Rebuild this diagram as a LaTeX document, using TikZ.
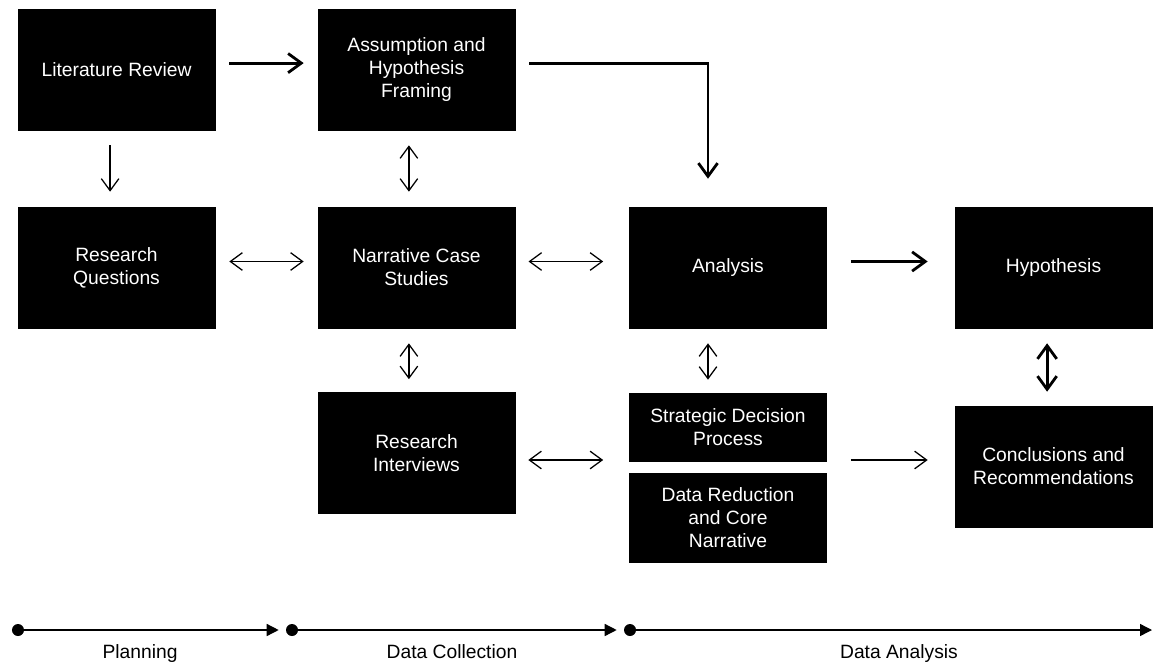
\documentclass[tikz,border=0pt]{standalone}
\usepackage{fontspec}
\setmainfont{Liberation Sans}
\usetikzlibrary{arrows.meta}

\begin{document}
\begin{tikzpicture}[x=0.025cm, y=-0.025cm,
        block/.style={rectangle, fill=black, draw=black, text=white, align=center,
            minimum width=4.925cm, minimum height=3.025cm, inner sep=2pt,
            font=\fontsize{13.7}{16.4}\selectfont},
        link/.style={line width=0.9pt, -{Straight Barb[length=0.3cm, width=0.44cm]}},
        twoway/.style={line width=0.9pt, {Straight Barb[length=0.3cm, width=0.44cm]}-{Straight Barb[length=0.3cm, width=0.44cm]}},
        boldlink/.style={line width=2pt, -{Straight Barb[length=0.33cm, width=0.48cm]}},
        boldtwoway/.style={line width=2pt, {Straight Barb[length=0.33cm, width=0.48cm]}-{Straight Barb[length=0.33cm, width=0.48cm]}},
        dot/.style={circle, fill=black, inner sep=0pt, minimum size=0.3cm},
        phase/.style={line width=1pt, -{Triangle[length=0.3cm, width=0.3cm]}},
        phaselabel/.style={anchor=base, font=\fontsize{13.7}{16.4}\selectfont}]
    \useasboundingbox (0,0) rectangle (1158,664);

    % Draw the boxes
    \node[block] (LitReview) at (116.5,69.5) {Literature Review};
    \node[block] (Framing) at (416.5,69.5) {Assumption and\\Hypothesis\\Framing};
    \node[block] (Questions) at (116.5,267.5) {Research\\Questions};
    \node[block] (CaseStudies) at (416.5,267.5) {Narrative Case\\Studies};
    \node[block] (Analysis) at (728,267.5) {Analysis};
    \node[block] (Hypothesis) at (1053.5,267.5) {Hypothesis};
    \node[block] (Interviews) at (416.5,453) {Research\\Interviews};
    \node[block, minimum height=1.7cm] (Strategic) at (728,427) {Strategic Decision\\Process};
    \node[block, minimum height=2.225cm] (Reduction) at (728,517.5) {Data Reduction\\and Core\\Narrative};
    \node[block] (Conclusions) at (1053.5,466.5) {Conclusions and\\Recommendations};

    % Thick arrows
    \draw[boldlink, shorten <=0.35cm, shorten >=0.35cm] ([yshift=0.16cm]LitReview.east) -- ([yshift=0.16cm]Framing.west);
    \draw[boldlink, shorten <=0.35cm, shorten >=0.7cm] ([yshift=0.16cm]Framing.east) -| ([xshift=-0.5cm]Analysis.north);
    \draw[boldlink, shorten <=0.6cm, shorten >=0.675cm] ([yshift=0.15cm]Analysis.east) -- ([yshift=0.15cm]Hypothesis.west);
    \draw[boldtwoway, shorten <=0.375cm, shorten >=0.35cm] ([xshift=-0.16cm]Hypothesis.south) -- ([xshift=-0.16cm]Conclusions.north);

    % Thin arrows
    \draw[link, shorten <=0.375cm, shorten >=0.375cm] ([xshift=-0.16cm]LitReview.south) -- ([xshift=-0.16cm]Questions.north);
    \draw[twoway, shorten <=0.375cm, shorten >=0.375cm] ([xshift=-0.19cm]Framing.south) -- ([xshift=-0.19cm]CaseStudies.north);
    \draw[twoway, shorten <=0.35cm, shorten >=0.35cm] ([yshift=0.15cm]Questions.east) -- ([yshift=0.15cm]CaseStudies.west);
    \draw[twoway, shorten <=0.33cm, shorten >=0.65cm] ([yshift=0.15cm]CaseStudies.east) -- ([yshift=0.15cm]Analysis.west);
    \draw[twoway, shorten <=0.375cm, shorten >=0.325cm] ([xshift=-0.19cm]CaseStudies.south) -- ([xshift=-0.19cm]Interviews.north);
    \draw[twoway, shorten <=0.375cm, shorten >=0.325cm] ([xshift=-0.5cm]Analysis.south) -- ([xshift=-0.5cm]Strategic.north);
    \coordinate (Link) at ([yshift=-0.175cm]Interviews.east);
    \draw[twoway, shorten <=0.325cm, shorten >=0.65cm] (Link) -- (Link -| Strategic.west);
    \draw[link, shorten <=0.6cm, shorten >=0.675cm] (Link -| Strategic.east) -- (Link -| Conclusions.west);

    % Timeline
    \node[dot] (PlanStart) at (18,630) {};
    \node[dot] (CollectStart) at (292,630) {};
    \node[dot] (AnalysisStart) at (630,630) {};
    \coordinate (TimeEnd) at (1152,630);
    \draw[phase, shorten >=0.175cm] (PlanStart) -- (CollectStart);
    \draw[phase, shorten >=0.175cm] (CollectStart) -- (AnalysisStart);
    \draw[phase] (AnalysisStart) -- (TimeEnd);
    \node[phaselabel] (Planning) at (140,658) {Planning};
    \node[phaselabel] (Collection) at (452,658) {Data Collection};
    \node[phaselabel] (DataAnalysis) at (899,658) {Data Analysis};
\end{tikzpicture}
\end{document}
